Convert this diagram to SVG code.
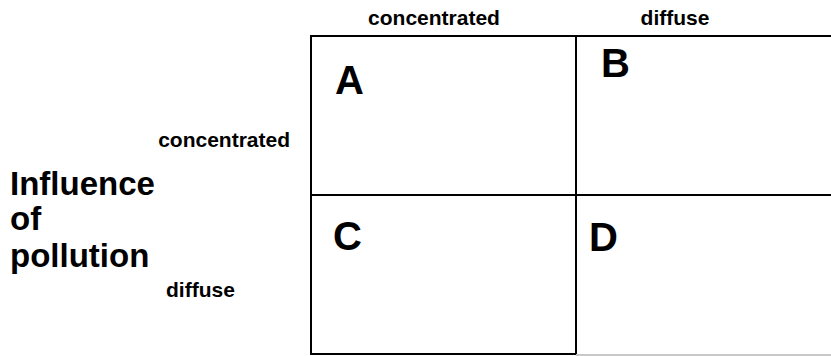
<svg xmlns="http://www.w3.org/2000/svg" width="831" height="356" viewBox="0 0 831 356">
<style>
text{font-family:"Liberation Sans",Arial,sans-serif;font-weight:bold;fill:#000}
.lab{font-size:21px}
.big{font-size:33px}
.cell{font-size:40px}
.ln{stroke:#000;stroke-width:2;fill:none}
</style>
<rect width="831" height="356" fill="#fff"/>
<g id="grid">
<line class="ln" x1="311" y1="36" x2="831" y2="36"/>
<line class="ln" x1="311" y1="35" x2="311" y2="355"/>
<line class="ln" x1="576" y1="36" x2="576" y2="355"/>
<line class="ln" x1="311" y1="195" x2="831" y2="195"/>
<line class="ln" x1="311" y1="354" x2="576" y2="354"/>
<line x1="576" y1="355" x2="831" y2="355" stroke="#c8c8c8" stroke-width="2"/>
</g>
<g id="col-labels">
<text class="lab" x="434" y="25" text-anchor="middle">concentrated</text>
<text class="lab" x="675" y="25" text-anchor="middle">diffuse</text>
</g>
<g id="row-labels">
<text class="lab" x="290" y="147" text-anchor="end" font-size="22">concentrated</text>
<text class="big" x="10" y="195">Influence</text>
<text class="big" x="10" y="230">of</text>
<text class="big" x="10" y="267">pollution</text>
<text class="lab" x="166" y="297">diffuse</text>
</g>
<g id="A"><text class="cell" x="335" y="94">A</text></g>
<g id="B"><text class="cell" x="601" y="77">B</text></g>
<g id="C"><text class="cell" x="333" y="250">C</text></g>
<g id="D"><text class="cell" x="589" y="251">D</text></g>
</svg>
